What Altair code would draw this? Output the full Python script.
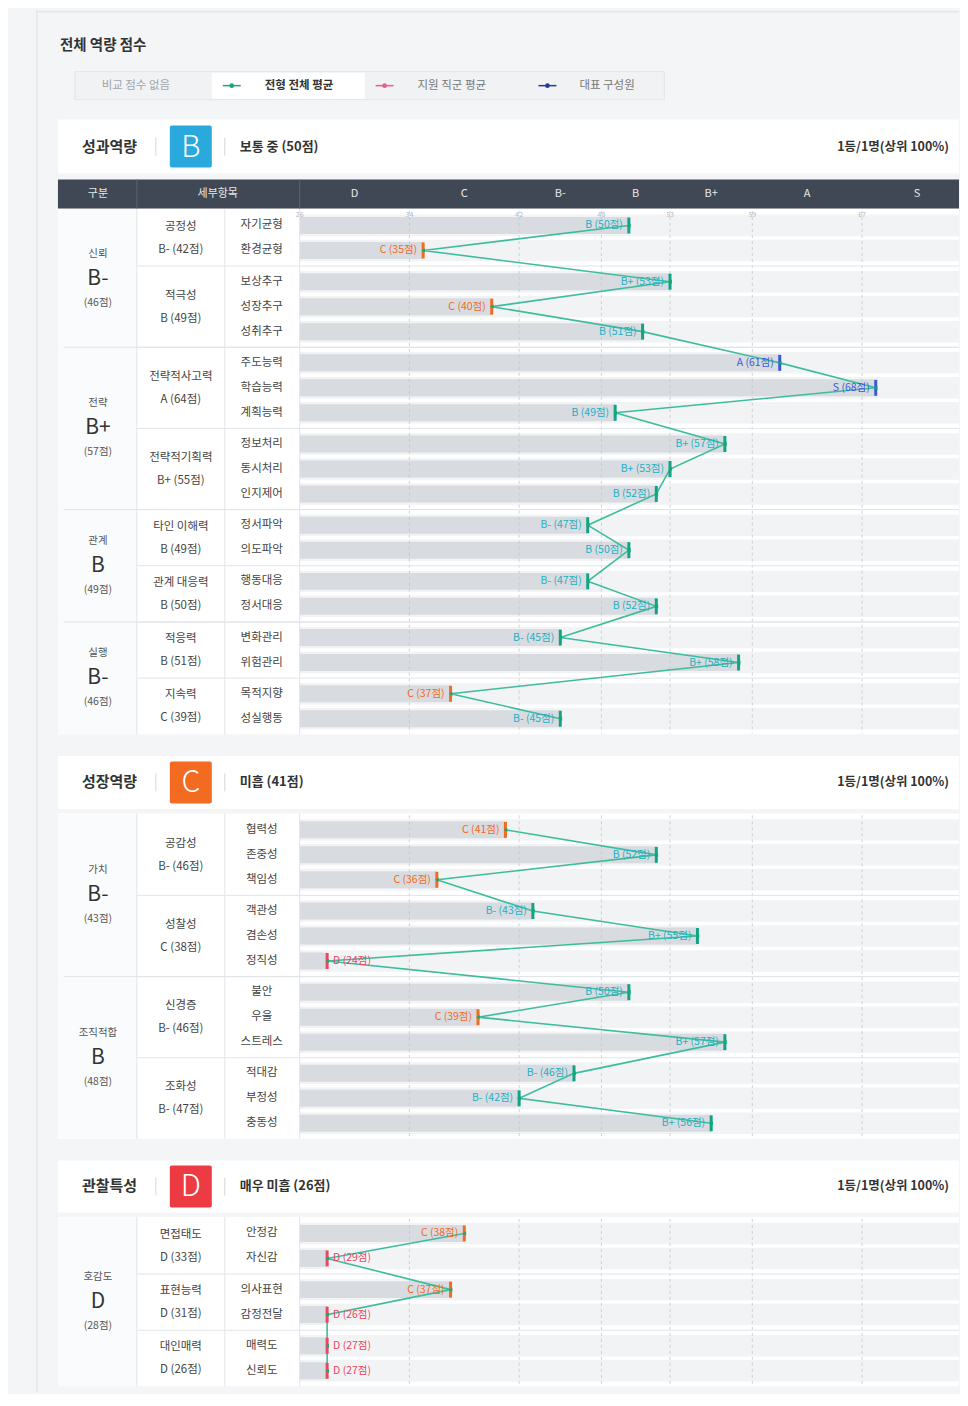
import altair as alt
import numpy as np
import pandas as pd

FONT = "Noto Sans CJK KR"
W = 952
ROW_H = 25
GAP = 0.25

# ---------------- grade scale ----------------
GRADE_NAMES = ["D", "C", "B-", "B", "B+", "A", "S"]
GRADE_BOUNDS = [26, 34, 42, 48, 53, 59, 67, 75]
TICK_VALUES = [26, 34, 42, 48, 53, 59, 67, 74]
LABEL_COLORS = ["#ef4360", "#f36a21", "#1fb0c6", "#1fb0c6", "#1fb0c6", "#3a5ad9", "#3a5ad9"]
MARK_COLORS = ["#ef4360", "#f36a21", "#11a386", "#11a386", "#11a386", "#3a5ad9", "#3a5ad9"]
BADGE_COLORS = {"B": "#2aa9dc", "C": "#f36a21", "D": "#ec3b42"}

# ---------------- legend ----------------
LEGEND_ITEMS = ["비교 점수 없음", "전형 전체 평균", "지원 직군 평균", "대표 구성원"]
LEGEND_COLORS = ["#a0a4a9", "#1aa870", "#ee5a8c", "#27399a"]

# ---------------- section 1 : 성과역량 ----------------
S1_GROUPS = ["신뢰", "전략", "관계", "실행"]
S1_GROUP_GRADES = ["B-", "B+", "B", "B-"]
S1_GROUP_SCORES = [46, 57, 49, 46]
S1_SUBS = ["공정성", "적극성", "전략적사고력", "전략적기획력", "타인 이해력", "관계 대응력", "적응력", "지속력"]
S1_SUB_GROUP = [0, 0, 1, 1, 2, 2, 3, 3]
S1_SUB_GRADES = ["B-", "B", "A", "B+", "B", "B", "B", "C"]
S1_SUB_SCORES = [42, 49, 64, 55, 49, 50, 51, 39]
S1_ITEMS = ["자기균형", "환경균형", "보상추구", "성장추구", "성취추구", "주도능력", "학습능력", "계획능력",
            "정보처리", "동시처리", "인지제어", "정서파악", "의도파악", "행동대응", "정서대응",
            "변화관리", "위험관리", "목적지향", "성실행동"]
S1_ITEM_SUB = [0, 0, 1, 1, 1, 2, 2, 2, 3, 3, 3, 4, 4, 5, 5, 6, 6, 7, 7]
S1_ITEM_GRADES = ["B", "C", "B+", "C", "B", "A", "S", "B", "B+", "B+", "B", "B-", "B", "B-", "B",
                  "B-", "B+", "C", "B-"]
S1_ITEM_SCORES = [50, 35, 53, 40, 51, 61, 68, 49, 57, 53, 52, 47, 50, 47, 52, 45, 58, 37, 45]

# ---------------- section 2 : 성장역량 ----------------
S2_GROUPS = ["가치", "조직적합"]
S2_GROUP_GRADES = ["B-", "B"]
S2_GROUP_SCORES = [43, 48]
S2_SUBS = ["공감성", "성찰성", "신경증", "조화성"]
S2_SUB_GROUP = [0, 0, 1, 1]
S2_SUB_GRADES = ["B-", "C", "B-", "B-"]
S2_SUB_SCORES = [46, 38, 46, 47]
S2_ITEMS = ["협력성", "존중성", "책임성", "객관성", "겸손성", "정직성", "불안", "우울", "스트레스",
            "적대감", "부정성", "충동성"]
S2_ITEM_SUB = [0, 0, 0, 1, 1, 1, 2, 2, 2, 3, 3, 3]
S2_ITEM_GRADES = ["C", "B", "C", "B-", "B+", "D", "B", "C", "B+", "B-", "B-", "B+"]
S2_ITEM_SCORES = [41, 52, 36, 43, 55, 24, 50, 39, 57, 46, 42, 56]

# ---------------- section 3 : 관찰특성 ----------------
S3_GROUPS = ["호감도"]
S3_GROUP_GRADES = ["D"]
S3_GROUP_SCORES = [28]
S3_SUBS = ["면접태도", "표현능력", "대인매력"]
S3_SUB_GROUP = [0, 0, 0]
S3_SUB_GRADES = ["D", "D", "D"]
S3_SUB_SCORES = [33, 31, 26]
S3_ITEMS = ["안정감", "자신감", "의사표현", "감정전달", "매력도", "신뢰도"]
S3_ITEM_SUB = [0, 0, 1, 1, 2, 2]
S3_ITEM_GRADES = ["C", "D", "C", "D", "D", "D"]
S3_ITEM_SCORES = [38, 29, 37, 26, 27, 27]

SECTION_TITLES = ["성과역량", "성장역량", "관찰특성"]
SECTION_GRADES = ["B", "C", "D"]
SECTION_DESCS = ["보통 중 (50점)", "미흡 (41점)", "매우 미흡 (26점)"]
SECTION_RANKS = ["1등/1명(상위 100%)", "1등/1명(상위 100%)", "1등/1명(상위 100%)"]

XS = alt.Scale(domain=[26, 75], range=[292, 292 + 49 * 13.73], nice=False, zero=False)
ONE = pd.DataFrame({"k": [0]})


def rect(x0, x1, y0, y1, color, **kw):
    return alt.Chart(ONE).mark_rect(color=color, **kw).encode(
        x=alt.value(x0), x2=alt.value(x1), y=alt.value(y0), y2=alt.value(y1))


def rule(x0, x1, y0, y1, color, width=1, **kw):
    return alt.Chart(ONE).mark_rule(color=color, strokeWidth=width, **kw).encode(
        x=alt.value(x0), x2=alt.value(x1), y=alt.value(y0), y2=alt.value(y1))


def txt(x, y, s, size=12, color="#333", weight="normal", align="left", **kw):
    return alt.Chart(ONE).mark_text(text=s, font=FONT, fontSize=size, color=color,
                                    fontWeight=weight, align=align, baseline="middle", **kw).encode(
        x=alt.value(x), y=alt.value(y))


def make_rows(items, item_sub, sub_group, grades, scores):
    df = pd.DataFrame(dict(item=items, sub=item_sub, grade=grades, score=scores))
    df["grp"] = [sub_group[s] for s in item_sub]
    df["pos"] = np.arange(len(df)) + GAP * df["sub"]
    df["xs"] = np.where(df["grade"] == "D", 28, df["score"]).astype(float)
    df["label"] = [f"{g} ({s}점)" for g, s in zip(grades, scores)]
    df["side"] = np.where(df["grade"] == "D", "right", "left")
    df["m0"] = df["pos"] - 0.32
    df["m1"] = df["pos"] + 0.32
    df["b0"] = df["pos"] - 0.34
    df["b1"] = df["pos"] + 0.34
    df["s0"] = df["pos"] - 0.43
    df["s1"] = df["pos"] + 0.43
    return df


def make_blocks(rows, key, names, grades, scores, fmt):
    g = rows.groupby(key)["pos"]
    df = pd.DataFrame(dict(name=names))
    df["text"] = [fmt(gr, s) for gr, s in zip(grades, scores)]
    df["grade"] = grades
    df["score"] = [f"({s}점)" for s in scores]
    df["center"] = (g.min().values + g.max().values) / 2
    df["bound"] = g.min().values - 0.5 - GAP / 2
    return df


def card_border(H):
    return rule(29, 29, 0, H, "#dde0e4")


def section(idx, rows, subs, groups, H, hdr_top, hdr_bot, rows_top, dark):
    title = SECTION_TITLES[idx]
    badge = SECTION_GRADES[idx]
    posmax = float(rows["pos"].max())
    rows_bot = rows_top + (posmax + 1) * ROW_H
    ys = alt.Scale(domain=[-0.5, posmax + 0.5], range=[rows_top, rows_bot], nice=False, zero=False)
    hc = (hdr_top + hdr_bot) / 2
    L = [card_border(H)]
    # section header
    L.append(rect(50, W, hdr_top, hdr_bot, "white"))
    L.append(txt(74, hc, title, size=15, weight="bold", color="#333"))
    L.append(rule(148, 148, hc - 9, hc + 9, "#d5d8dc"))
    L.append(rect(162, 204, hc - 21, hc + 21, BADGE_COLORS[badge], cornerRadius=2))
    L.append(txt(183, hc + 1, badge, size=30, color="white", weight=300, align="center"))
    L.append(rule(217, 217, hc - 9, hc + 9, "#d5d8dc"))
    L.append(txt(232, hc, SECTION_DESCS[idx], size=13, weight="bold", color="#333"))
    L.append(txt(942, hc, SECTION_RANKS[idx], size=12.5, weight="bold", color="#333", align="right"))
    # white table body
    L.append(rect(50, W, rows_top - 4, rows_bot + 3, "white"))
    L.append(rect(50, 129, rows_top - 4, rows_bot + 3, "#fafbfc"))
    if dark:
        d0, d1 = hdr_bot + 6, hdr_bot + 35
        L.append(rect(50, W, d0, d1, "#3f4854"))
        L.append(rule(129, 129, d0, d1, "#5a6370"))
        L.append(rule(292, 292, d0, d1, "#5a6370"))
        L.append(txt(90, (d0 + d1) / 2, "구분", size=11, color="#e6e9ed", align="center"))
        L.append(txt(210, (d0 + d1) / 2, "세부항목", size=11, color="#e6e9ed", align="center"))
        gdf = pd.DataFrame(dict(g=GRADE_NAMES,
                                mid=[(GRADE_BOUNDS[i] + GRADE_BOUNDS[i + 1]) / 2 for i in range(len(GRADE_NAMES))]))
        L.append(alt.Chart(gdf).mark_text(font=FONT, fontSize=11, color="#e6e9ed", baseline="middle").encode(
            x=alt.X("mid:Q", scale=XS, axis=None), y=alt.value((d0 + d1) / 2), text="g:N"))
    # row stripes
    L.append(alt.Chart(rows).mark_rect(color="#f1f3f5").encode(
        x=alt.value(292), x2=alt.value(W),
        y=alt.Y("s0:Q", scale=ys, axis=None), y2="s1:Q"))
    # bars
    L.append(alt.Chart(rows).mark_rect(color="#d8dbdf").encode(
        x=alt.X("xs:Q", scale=XS, axis=None), x2=alt.value(292),
        y=alt.Y("b0:Q", scale=ys, axis=None), y2="b1:Q"))
    # grade grid
    bdf = pd.DataFrame(dict(b=GRADE_BOUNDS[1:-1]))
    L.append(alt.Chart(bdf).mark_rule(color="#c4c8cd", strokeDash=[3, 3], strokeWidth=1, opacity=0.8).encode(
        x=alt.X("b:Q", scale=XS, axis=None), y=alt.value(rows_top - 2), y2=alt.value(rows_bot + 2)))
    if dark:
        tdf = pd.DataFrame(dict(t=TICK_VALUES[:-1], s=[str(v) for v in TICK_VALUES[:-1]]))
        L.append(alt.Chart(tdf).mark_text(font=FONT, fontSize=7, color="#b3b7bd", baseline="middle").encode(
            x=alt.X("t:Q", scale=XS, axis=None), y=alt.value(rows_top + 2), text="s:N"))
    # separators
    sb = subs[subs["bound"] > 0]
    gb = groups[groups["bound"] > 0]
    if len(sb):
        L.append(alt.Chart(sb).mark_rule(color="#e1e4e8", strokeWidth=1).encode(
            x=alt.value(129), x2=alt.value(W), y=alt.Y("bound:Q", scale=ys, axis=None)))
    if len(gb):
        L.append(alt.Chart(gb).mark_rule(color="#e1e4e8", strokeWidth=1).encode(
            x=alt.value(56), x2=alt.value(W), y=alt.Y("bound:Q", scale=ys, axis=None)))
    for vx in (129, 217, 292):
        L.append(rule(vx, vx, rows_top - 4, rows_bot + 3, "#e1e4e8"))
    # connecting line
    L.append(alt.Chart(rows).mark_line(color="#3dbd9c", strokeWidth=1.6).encode(
        x=alt.X("xs:Q", scale=XS, axis=None), y=alt.Y("pos:Q", scale=ys, axis=None),
        order=alt.Order("pos:Q")))
    # markers
    L.append(alt.Chart(rows).mark_rule(strokeWidth=3).encode(
        x=alt.X("xs:Q", scale=XS, axis=None),
        y=alt.Y("m0:Q", scale=ys, axis=None), y2="m1:Q",
        color=alt.Color("grade:N", scale=alt.Scale(domain=GRADE_NAMES, range=MARK_COLORS), legend=None)))
    L.append(alt.Chart(rows).mark_point(filled=True, size=18, color="#1aa870", opacity=1, shape="triangle-left").encode(
        x=alt.X("xs:Q", scale=XS, axis=None), y=alt.Y("pos:Q", scale=ys, axis=None)))
    # value labels
    L.append(alt.Chart(rows).transform_filter(alt.datum.side == "left").mark_text(
        font=FONT, fontSize=10.5, align="right", dx=-6, baseline="middle").encode(
        x=alt.X("xs:Q", scale=XS, axis=None), y=alt.Y("pos:Q", scale=ys, axis=None), text="label:N",
        color=alt.Color("grade:N", scale=alt.Scale(domain=GRADE_NAMES, range=LABEL_COLORS), legend=None)))
    if (rows["side"] == "right").any():
        L.append(alt.Chart(rows).transform_filter(alt.datum.side == "right").mark_text(
            font=FONT, fontSize=10.5, align="left", dx=6, baseline="middle").encode(
            x=alt.X("xs:Q", scale=XS, axis=None), y=alt.Y("pos:Q", scale=ys, axis=None), text="label:N",
            color=alt.Color("grade:N", scale=alt.Scale(domain=GRADE_NAMES, range=LABEL_COLORS), legend=None)))
    # group column
    L.append(alt.Chart(groups).mark_text(font=FONT, fontSize=10.5, color="#555", dy=-25, baseline="middle").encode(
        x=alt.value(90), y=alt.Y("center:Q", scale=ys, axis=None), text="name:N"))
    L.append(alt.Chart(groups).mark_text(font=FONT, fontSize=21, color="#333", baseline="middle").encode(
        x=alt.value(90), y=alt.Y("center:Q", scale=ys, axis=None), text="grade:N"))
    L.append(alt.Chart(groups).mark_text(font=FONT, fontSize=10.5, color="#555", dy=24, baseline="middle").encode(
        x=alt.value(90), y=alt.Y("center:Q", scale=ys, axis=None), text="score:N"))
    # sub-group column
    L.append(alt.Chart(subs).mark_text(font=FONT, fontSize=11.5, color="#444", dy=-11, baseline="middle").encode(
        x=alt.value(173), y=alt.Y("center:Q", scale=ys, axis=None), text="name:N"))
    L.append(alt.Chart(subs).mark_text(font=FONT, fontSize=11.5, color="#444", dy=12, baseline="middle").encode(
        x=alt.value(173), y=alt.Y("center:Q", scale=ys, axis=None), text="text:N"))
    # item column
    L.append(alt.Chart(rows).mark_text(font=FONT, fontSize=11.5, color="#444", baseline="middle").encode(
        x=alt.value(254), y=alt.Y("pos:Q", scale=ys, axis=None), text="item:N"))
    return alt.layer(*L).resolve_scale(color="independent").properties(width=W, height=H)


def build(items, item_sub, sub_group, grades, scores, subs, sub_grades, sub_scores, grps, grp_grades, grp_scores):
    rows = make_rows(items, item_sub, sub_group, grades, scores)
    sdf = make_blocks(rows, "sub", subs, sub_grades, sub_scores, lambda g, s: f"{g} ({s}점)")
    gdf = make_blocks(rows, "grp", grps, grp_grades, grp_scores, lambda g, s: f"{g} ({s}점)")
    return rows, sdf, gdf


r1, sd1, gd1 = build(S1_ITEMS, S1_ITEM_SUB, S1_SUB_GROUP, S1_ITEM_GRADES, S1_ITEM_SCORES,
                     S1_SUBS, S1_SUB_GRADES, S1_SUB_SCORES, S1_GROUPS, S1_GROUP_GRADES, S1_GROUP_SCORES)
r2, sd2, gd2 = build(S2_ITEMS, S2_ITEM_SUB, S2_SUB_GROUP, S2_ITEM_GRADES, S2_ITEM_SCORES,
                     S2_SUBS, S2_SUB_GRADES, S2_SUB_SCORES, S2_GROUPS, S2_GROUP_GRADES, S2_GROUP_SCORES)
r3, sd3, gd3 = build(S3_ITEMS, S3_ITEM_SUB, S3_SUB_GROUP, S3_ITEM_GRADES, S3_ITEM_SCORES,
                     S3_SUBS, S3_SUB_GRADES, S3_SUB_SCORES, S3_GROUPS, S3_GROUP_GRADES, S3_GROUP_SCORES)

# ---------------- top panel ----------------
TOP_H = 104
top_layers = [
    card_border(TOP_H),
    rule(29, W, 2, 2, "#dde0e4"),
    txt(52, 36, "전체 역량 점수", size=14.5, weight="bold", color="#333"),
    rect(67, 657, 62, 90, "#f0f2f4", stroke="#e2e5e9", strokeWidth=1),
    rect(204, 357, 63, 89, "white"),
    txt(128, 76, LEGEND_ITEMS[0], size=11.5, color=LEGEND_COLORS[0], align="center"),
]
for lx, tx, i, wt, tc in [(224, 257, 1, "bold", "#333"), (377, 410, 2, "normal", "#777"),
                          (540, 572, 3, "normal", "#777")]:
    top_layers.append(rule(lx - 9, lx + 9, 76, 76, LEGEND_COLORS[i], width=1.5))
    top_layers.append(alt.Chart(ONE).mark_point(filled=True, size=22, color=LEGEND_COLORS[i], opacity=1).encode(
        x=alt.value(lx), y=alt.value(76)))
    top_layers.append(txt(tx, 76, LEGEND_ITEMS[i], size=11.5, weight=wt, color=tc))
top = alt.layer(*top_layers).properties(width=W, height=TOP_H)

s1 = section(0, r1, sd1, gd1, H=625, hdr_top=6, hdr_bot=60, rows_top=99.5, dark=True)
s2 = section(1, r2, sd2, gd2, H=405, hdr_top=18, hdr_bot=71, rows_top=79.5, dark=False)
s3 = section(2, r3, sd3, gd3, H=250, hdr_top=18, hdr_bot=70, rows_top=78.5, dark=False)

chart = alt.vconcat(top, s1, s2, s3, spacing=0, bounds="flush").properties(
    padding=0, background="#f4f5f7").configure_view(strokeWidth=0)

chart.save("out.html", embed_options={"renderer": "svg", "actions": False})
